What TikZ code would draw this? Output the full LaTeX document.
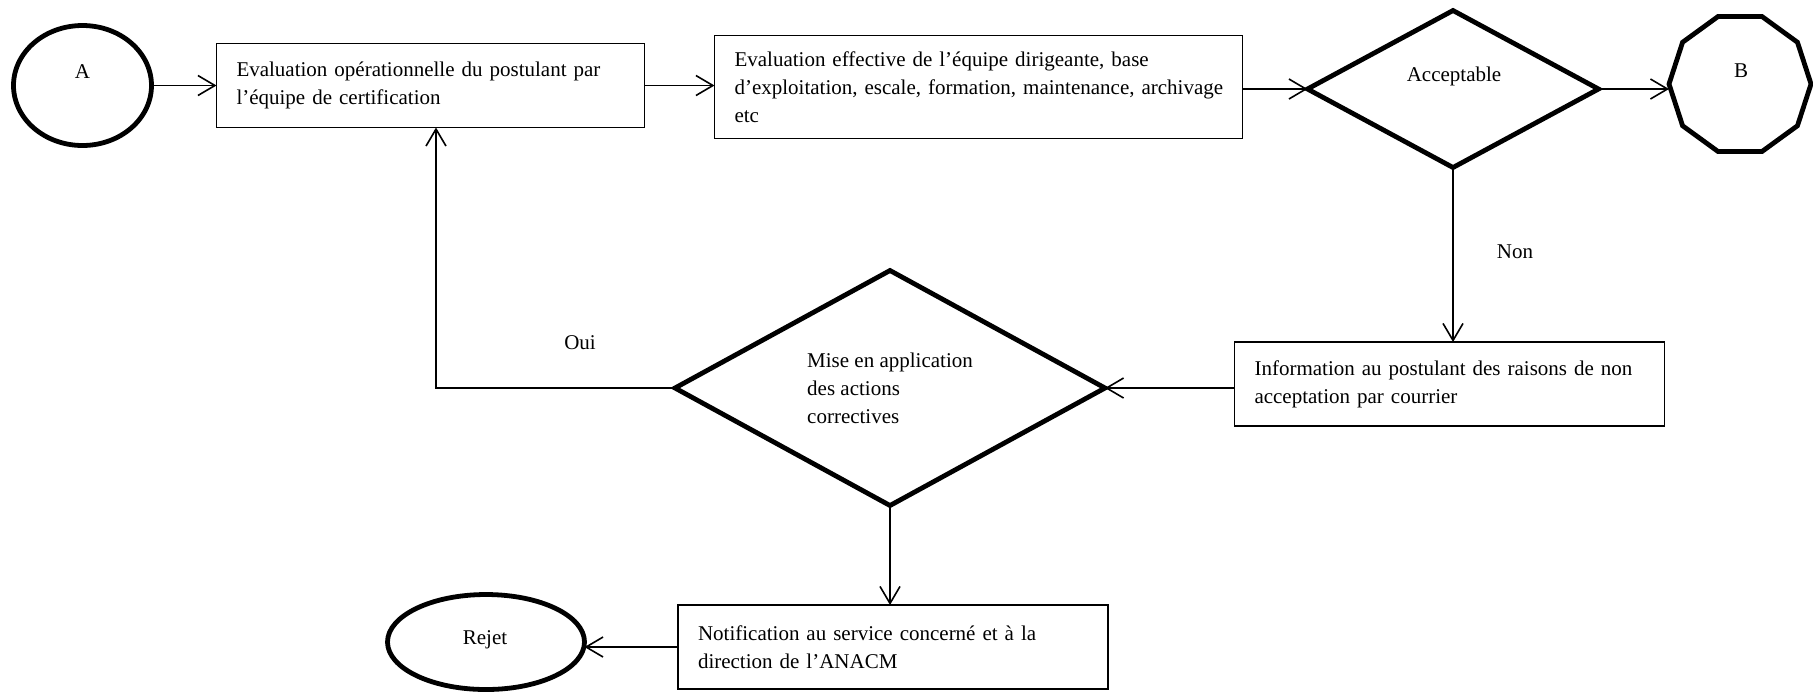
\documentclass[tikz,border=0pt]{standalone}
\usepackage{fontspec}
\setmainfont{Liberation Serif}
\usetikzlibrary{shapes.geometric,arrows.meta,calc}
\begin{document}
\begin{tikzpicture}[x=0.5pt,y=-0.5pt,
  font=\fontsize{10.5pt}{14pt}\selectfont,
  boxnode/.style={draw, rectangle, line width=0.7pt, inner xsep=10pt, inner ysep=0pt, align=left, outer sep=0pt},
  heavy/.style={draw, line width=2.4pt, inner sep=0pt, outer sep=0pt},
  arr/.style={line width=0.8pt, -{Straight Barb[length=8.5pt,width=10pt,line width=0.8pt]}},
  lbl/.style={inner sep=0pt}]
\useasboundingbox (0,0) rectangle (1813,693);

% shapes
\node[heavy, ellipse, minimum width=69pt, minimum height=60pt] (A) at (82.5,85.5) {};
\node[lbl] (Alab) at (82.5,72) {A};

\node[boxnode, text width=194pt, minimum height=42pt] (box1) at (430.5,85.5)
  {Evaluation opérationnelle du postulant par\\ l’équipe de certification};

\node[boxnode, text width=244pt, minimum height=51.5pt] (box2) at (978.5,87)
  {Evaluation effective de l’équipe dirigeante, base\\ \mbox{d’exploitation, escale, formation, maintenance, archivage}\\ etc};

\node[heavy, diamond, aspect=1.85, minimum width=145.5pt, minimum height=78.5pt] (acc) at (1453,89) {};
\node[lbl] (acclab) at (1454,76) {Acceptable};

\node[heavy, regular polygon, regular polygon sides=10, minimum size=71pt] (B) at (1740,84) {};
\node[lbl] (Blab) at (1741,71) {B};

\node[boxnode, text width=195pt, minimum height=42pt] (box3) at (1449.5,384)
  {Information au postulant des raisons de non\\ acceptation par courrier};

\node[heavy, diamond, aspect=1.83, minimum width=215pt, minimum height=117.5pt, align=left] (mise) at (890,388)
  {Mise en application\\ des actions\\ correctives};

\node[boxnode, text width=195pt, minimum height=42pt] (box4) at (893,647)
  {Notification au service concerné et à la\\ direction de l’ANACM};

\node[heavy, ellipse, minimum width=98.5pt, minimum height=47.5pt] (rejet) at (486,642) {};
\node[lbl] (rejetlab) at (485,640) {Rejet};

\node[lbl] (oui) at (580,343) {Oui};
\node[lbl] (non) at (1515,252) {Non};

% connectors
\draw[arr] (A.east) -- (A.east -| box1.west);
\draw[arr] (box1.east) -- (box1.east -| box2.west);
\draw[arr] (box2.east |- acc.west) -- (acc.west);
\draw[arr] (acc.east) -- (acc.east -| B.west);
\draw[arr] (acc.south) -- (acc.south |- box3.north);
\draw[arr] (box3.west |- mise.east) -- (mise.east);
\coordinate (ouicol) at (436,388);
\draw[arr] (mise.west) -- (ouicol) -- (ouicol |- box1.south);
\draw[arr] (mise.south) -- (mise.south |- box4.north);
\draw[arr] (box4.west) -- (box4.west -| rejet.east);
\end{tikzpicture}
\end{document}
